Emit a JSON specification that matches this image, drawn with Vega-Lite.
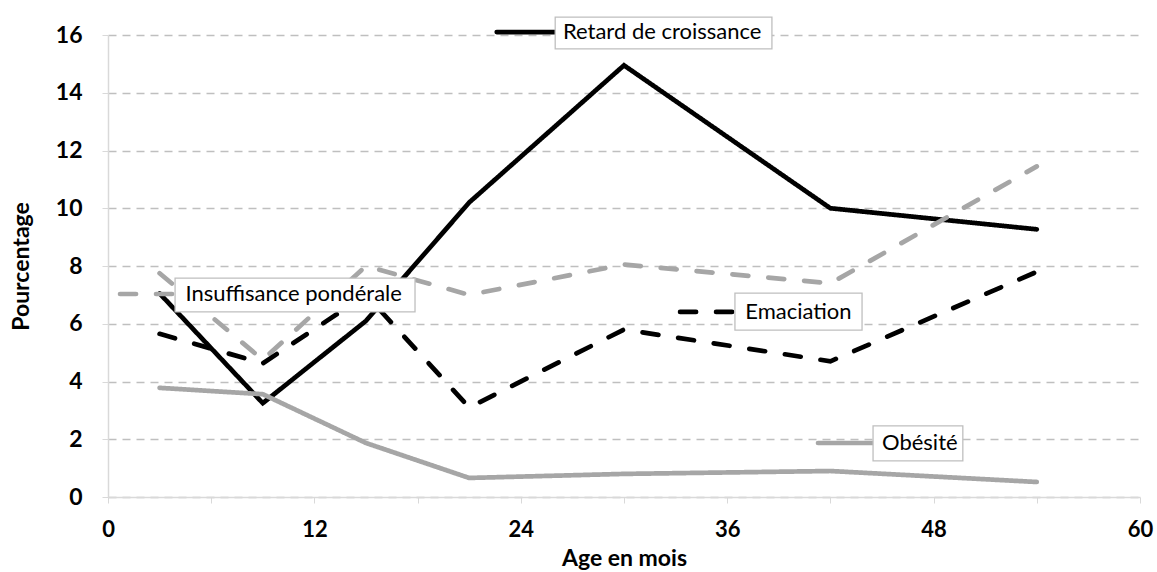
{
  "$schema": "https://vega.github.io/schema/vega-lite/v6.json",
  "width": 1032,
  "height": 462,
  "autosize": {"type": "none"},
  "padding": {"left": 108, "top": 35, "right": 17, "bottom": 75},
  "background": "white",
  "config": {"view": {"stroke": null}, "font": "Lato"},
  "datasets": {
    "series": [
      {"age": 3, "pct": 7.05, "serie": "Retard de croissance"},
      {"age": 9, "pct": 3.25, "serie": "Retard de croissance"},
      {"age": 15, "pct": 6.1, "serie": "Retard de croissance"},
      {"age": 21, "pct": 10.2, "serie": "Retard de croissance"},
      {"age": 30, "pct": 14.95, "serie": "Retard de croissance"},
      {"age": 42, "pct": 10.0, "serie": "Retard de croissance"},
      {"age": 54, "pct": 9.27, "serie": "Retard de croissance"},
      {"age": 3, "pct": 7.75, "serie": "Insuffisance pondérale"},
      {"age": 9, "pct": 4.75, "serie": "Insuffisance pondérale"},
      {"age": 15, "pct": 8.0, "serie": "Insuffisance pondérale"},
      {"age": 21, "pct": 7.0, "serie": "Insuffisance pondérale"},
      {"age": 30, "pct": 8.05, "serie": "Insuffisance pondérale"},
      {"age": 42, "pct": 7.4, "serie": "Insuffisance pondérale"},
      {"age": 54, "pct": 11.45, "serie": "Insuffisance pondérale"},
      {"age": 3, "pct": 5.65, "serie": "Emaciation"},
      {"age": 9, "pct": 4.63, "serie": "Emaciation"},
      {"age": 15, "pct": 7.0, "serie": "Emaciation"},
      {"age": 21, "pct": 3.1, "serie": "Emaciation"},
      {"age": 30, "pct": 5.8, "serie": "Emaciation"},
      {"age": 42, "pct": 4.7, "serie": "Emaciation"},
      {"age": 54, "pct": 7.8, "serie": "Emaciation"},
      {"age": 3, "pct": 3.78, "serie": "Obésité"},
      {"age": 9, "pct": 3.56, "serie": "Obésité"},
      {"age": 15, "pct": 1.87, "serie": "Obésité"},
      {"age": 21, "pct": 0.66, "serie": "Obésité"},
      {"age": 30, "pct": 0.8, "serie": "Obésité"},
      {"age": 42, "pct": 0.9, "serie": "Obésité"},
      {"age": 54, "pct": 0.52, "serie": "Obésité"}
    ],
    "labels": [
      {"serie": "Retard de croissance", "k1": 22.6, "k2": 26.0, "ky": 16.1, "b1": 26.0, "b2": 38.6, "bt": 16.62, "bb": 15.52, "tx": 26.45},
      {"serie": "Insuffisance pondérale", "k1": 0.7, "k2": 3.9, "ky": 7.03, "b1": 3.9, "b2": 17.85, "bt": 7.58, "bb": 6.41, "tx": 4.5},
      {"serie": "Emaciation", "k1": 33.26, "k2": 36.45, "ky": 6.41, "b1": 36.45, "b2": 43.84, "bt": 7.06, "bb": 5.78, "tx": 37.05},
      {"serie": "Obésité", "k1": 41.28, "k2": 44.48, "ky": 1.87, "b1": 44.48, "b2": 49.7, "bt": 2.46, "bb": 1.25, "tx": 45.0}
    ]
  },
  "layer": [
    {
      "data": {"name": "series"},
      "mark": {"type": "line", "strokeWidth": 4.7, "strokeCap": "round", "strokeJoin": "miter"},
      "encoding": {
        "x": {
          "field": "age", "type": "quantitative",
          "scale": {"domain": [0, 60], "nice": false},
          "axis": {
            "values": [0, 6, 12, 18, 24, 30, 36, 42, 48, 54, 60],
            "labelExpr": "datum.value % 12 == 0 ? datum.label : ''",
            "grid": false,
            "domainColor": "#d9d9d9", "domainWidth": 1.5,
            "tickColor": "#d9d9d9", "tickSize": 6,
            "labelFont": "Lato", "labelFontWeight": "bold", "labelFontSize": 22, "labelColor": "#000",
            "labelPadding": 16, "labelFlush": false, "labelOverlap": false,
            "title": "Age en mois", "titleFont": "Lato", "titleFontWeight": "bold", "titleFontSize": 23, "titleColor": "#000",
            "titlePadding": 7
          }
        },
        "y": {
          "field": "pct", "type": "quantitative",
          "scale": {"domain": [0, 16], "nice": false},
          "axis": {
            "values": [0, 2, 4, 6, 8, 10, 12, 14, 16],
            "grid": true, "gridDash": [8, 6], "gridColor": "#bfbfbf", "gridWidth": 1.3,
            "domainColor": "#d9d9d9", "domainWidth": 1.5,
            "tickColor": "#d9d9d9", "tickSize": 6,
            "labelFont": "Lato", "labelFontWeight": "bold", "labelFontSize": 23, "labelColor": "#000",
            "labelPadding": 20,
            "title": "Pourcentage", "titleFont": "Lato", "titleFontWeight": "bold", "titleFontSize": 23, "titleColor": "#000",
            "titlePadding": 22
          }
        },
        "color": {
          "field": "serie", "type": "nominal",
          "scale": {"domain": ["Retard de croissance", "Insuffisance pondérale", "Emaciation", "Obésité"], "range": ["#000000", "#a6a6a6", "#000000", "#a6a6a6"]},
          "legend": null
        },
        "strokeDash": {
          "field": "serie", "type": "nominal",
          "scale": {"domain": ["Retard de croissance", "Insuffisance pondérale", "Emaciation", "Obésité"], "range": [[1, 0], [16, 20], [16, 20], [1, 0]]},
          "legend": null
        },
        "detail": {"field": "serie"}
      }
    },
    {
      "data": {"name": "labels"},
      "mark": {"type": "rule", "strokeWidth": 4.7, "strokeCap": "round"},
      "encoding": {
        "x": {"field": "k1", "type": "quantitative"},
        "x2": {"field": "k2"},
        "y": {"field": "ky", "type": "quantitative"},
        "color": {"field": "serie", "type": "nominal", "legend": null},
        "strokeDash": {"field": "serie", "type": "nominal", "legend": null}
      }
    },
    {
      "data": {"name": "labels"},
      "mark": {"type": "rect", "fill": "white", "stroke": "#bfbfbf", "strokeWidth": 1.3},
      "encoding": {
        "x": {"field": "b1", "type": "quantitative"},
        "x2": {"field": "b2"},
        "y": {"field": "bt", "type": "quantitative"},
        "y2": {"field": "bb"}
      }
    },
    {
      "data": {"name": "labels"},
      "mark": {"type": "text", "align": "left", "baseline": "middle", "font": "Lato", "fontSize": 22, "color": "#000"},
      "encoding": {
        "x": {"field": "tx", "type": "quantitative"},
        "y": {"field": "ky", "type": "quantitative"},
        "text": {"field": "serie"}
      }
    }
  ]
}
